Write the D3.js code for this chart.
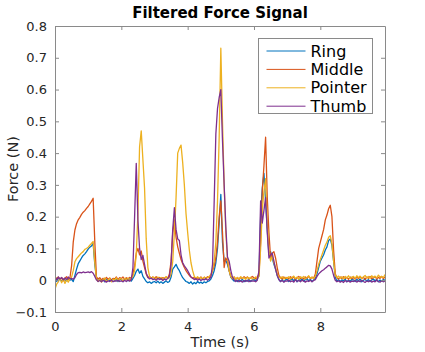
<!DOCTYPE html>
<html>
<head>
<meta charset="utf-8">
<script src="https://cdn.jsdelivr.net/npm/d3@7"></script>
<style>
  body { margin: 0; background: #fff; }
  svg { font-family: "DejaVu Sans", sans-serif; }
</style>
</head>
<body>
<div id="chart"></div>
<script>
// samples every 0.05 s
const sampleStep = 0.05;
const seriesNames = ["Ring", "Middle", "Pointer", "Thumb"];
const seriesColors = ["#0072bd", "#d95319", "#edb120", "#7e2f8e"];
const yTicks = [-0.1, 0, 0.1, 0.2, 0.3, 0.4, 0.5, 0.6, 0.7, 0.8];
const xTicks = [0, 2, 4, 6, 8];

const ring = [
  0.005, -0.004, 0.006, 0.002, -0.003, 0.004, 0.001, -0.002, 0.005, 0.000, 0.003, -0.004, 0.015, 0.035, 0.052, 0.061, 0.070, 0.078, 0.083, 0.090,
  0.098, 0.104, 0.108, 0.116, 0.050, 0.006, -0.003, 0.004, -0.002, 0.003, -0.005, 0.002, 0.004, -0.003, 0.001, 0.005, -0.002, 0.003, -0.004, 0.002,
  0.003, -0.004, 0.002, 0.005, -0.002, 0.004, -0.003, 0.006, 0.015, 0.028, 0.035, 0.022, 0.030, 0.012, 0.004, -0.004, -0.008, -0.005, -0.010, -0.006,
  -0.004, -0.008, -0.003, -0.009, -0.005, -0.010, -0.006, -0.002, -0.007, -0.004, 0.010, 0.035, 0.042, 0.050, 0.038, 0.030, 0.018, 0.008, 0.002, -0.004,
  -0.006, -0.010, -0.005, -0.012, -0.007, -0.011, -0.004, -0.009, -0.006, -0.010, -0.005, -0.008, -0.004, -0.002, 0.004, 0.015, 0.030, 0.055, 0.100, 0.180,
  0.270, 0.120, 0.060, 0.062, 0.050, 0.030, 0.010, 0.003, -0.003, 0.002, -0.004, 0.001, -0.002, 0.003, -0.005, 0.000, -0.003, 0.002, -0.004, 0.001,
  0.002, -0.003, 0.004, 0.015, 0.200, 0.290, 0.336, 0.250, 0.160, 0.080, 0.090, 0.070, 0.050, 0.035, 0.015, 0.003, -0.004, 0.002, -0.005, 0.001,
  0.003, -0.004, 0.001, 0.005, -0.002, 0.004, -0.005, 0.002, -0.001, 0.004, -0.003, 0.002, 0.005, -0.002, 0.003, -0.004, 0.001, 0.006, 0.020, 0.040,
  0.060, 0.070, 0.080, 0.095, 0.105, 0.125, 0.130, 0.110, 0.060, 0.010, -0.003, 0.002, -0.004, 0.001, -0.002, 0.003, -0.005, 0.000, -0.003, 0.002,
  0.001, -0.004, 0.003, -0.002, 0.004, -0.005, 0.000, 0.003, -0.003, 0.002, -0.004, 0.001, 0.004, -0.002, 0.003, -0.005, 0.001, -0.003, 0.002, 0.000
];
const middle = [
  0.012, 0.004, 0.010, 0.002, 0.008, -0.002, 0.006, 0.011, 0.003, 0.007, 0.045, 0.120, 0.158, 0.178, 0.190, 0.198, 0.207, 0.214, 0.219, 0.226,
  0.232, 0.240, 0.248, 0.258, 0.120, 0.010, 0.004, 0.008, 0.001, 0.006, 0.002, 0.009, 0.003, 0.007, 0.000, 0.006, 0.004, 0.010, 0.002, 0.008,
  0.005, 0.010, 0.003, 0.008, 0.004, 0.009, 0.006, 0.020, 0.045, 0.085, 0.100, 0.080, 0.092, 0.060, 0.040, 0.020, 0.008, 0.012, 0.005, 0.010,
  0.006, 0.011, 0.004, 0.009, 0.003, 0.008, 0.005, 0.010, 0.006, 0.020, 0.060, 0.150, 0.190, 0.135, 0.105, 0.085, 0.065, 0.052, 0.040, 0.030,
  0.022, 0.015, 0.010, 0.006, 0.009, 0.003, 0.008, 0.005, 0.010, 0.004, 0.009, 0.006, 0.011, 0.008, 0.015, 0.030, 0.045, 0.070, 0.120, 0.200,
  0.250, 0.150, 0.040, 0.070, 0.060, 0.030, 0.012, 0.006, 0.010, 0.004, 0.008, 0.003, 0.009, 0.005, 0.011, 0.006, 0.010, 0.004, 0.008, 0.012,
  0.008, 0.004, 0.010, 0.020, 0.120, 0.280, 0.360, 0.450, 0.260, 0.150, 0.070, 0.085, 0.090, 0.070, 0.040, 0.015, 0.008, 0.004, 0.010, 0.005,
  0.009, 0.004, 0.011, 0.006, 0.010, 0.003, 0.008, 0.012, 0.005, 0.009, 0.004, 0.010, 0.007, 0.012, 0.005, 0.009, 0.006, 0.020, 0.060, 0.100,
  0.120, 0.140, 0.160, 0.190, 0.205, 0.225, 0.236, 0.200, 0.094, 0.020, 0.008, 0.004, 0.010, 0.005, 0.011, 0.006, 0.009, 0.003, 0.010, 0.005,
  0.008, 0.004, 0.010, 0.005, 0.011, 0.006, 0.009, 0.003, 0.010, 0.006, 0.012, 0.005, 0.008, 0.011, 0.004, 0.009, 0.006, 0.012, 0.005, 0.010
];
const pointer = [
  -0.028, -0.012, -0.005, 0.006, -0.008, 0.004, -0.010, 0.002, -0.006, 0.005, 0.010, 0.030, 0.058, 0.068, 0.074, 0.080, 0.086, 0.090, 0.097, 0.100,
  0.104, 0.110, 0.116, 0.122, 0.055, 0.004, -0.004, 0.003, -0.006, 0.002, 0.007, -0.003, 0.001, 0.006, -0.005, 0.004, 0.000, 0.008, -0.002, 0.005,
  0.004, -0.003, 0.006, 0.001, 0.007, -0.002, 0.005, 0.012, 0.030, 0.080, 0.210, 0.420, 0.470, 0.380, 0.290, 0.130, 0.040, 0.012, 0.006, 0.010,
  0.008, 0.003, 0.010, 0.004, 0.009, 0.002, 0.007, 0.011, 0.005, 0.008, 0.020, 0.060, 0.150, 0.260, 0.400, 0.415, 0.425, 0.370, 0.300, 0.210,
  0.150, 0.095, 0.055, 0.030, 0.012, 0.006, 0.011, 0.004, 0.009, 0.003, 0.010, 0.005, 0.008, 0.012, 0.018, 0.030, 0.060, 0.120, 0.250, 0.450,
  0.730, 0.500, 0.300, 0.150, 0.070, 0.030, 0.012, 0.005, 0.010, 0.003, 0.009, 0.004, 0.011, 0.006, 0.008, 0.003, 0.010, 0.005, 0.009, 0.004,
  0.005, 0.010, 0.006, 0.012, 0.100, 0.220, 0.280, 0.320, 0.180, 0.090, 0.060, 0.075, 0.055, 0.040, 0.020, 0.010, 0.006, 0.011, 0.004, 0.009,
  0.006, 0.011, 0.004, 0.009, 0.013, 0.005, 0.010, 0.003, 0.011, 0.007, 0.012, 0.004, 0.009, 0.014, 0.006, 0.010, 0.005, 0.012, 0.030, 0.050,
  0.065, 0.080, 0.095, 0.110, 0.120, 0.135, 0.140, 0.115, 0.060, 0.015, 0.008, 0.013, 0.006, 0.011, 0.004, 0.012, 0.007, 0.014, 0.005, 0.010,
  0.012, 0.006, 0.014, 0.008, 0.013, 0.005, 0.011, 0.015, 0.007, 0.012, 0.006, 0.014, 0.009, 0.013, 0.007, 0.016, 0.010, 0.012, 0.008, 0.018
];
const thumb = [
  0.008, 0.002, 0.010, 0.004, 0.009, 0.001, 0.007, 0.003, 0.010, 0.005, 0.006, 0.003, 0.008, 0.018, 0.024, 0.025, 0.023, 0.026, 0.024, 0.025,
  0.026, 0.024, 0.027, 0.022, 0.012, 0.001, -0.004, -0.001, -0.005, 0.000, -0.003, -0.006, -0.002, -0.004, 0.001, -0.005, -0.002, -0.003, 0.000, -0.004,
  -0.002, -0.005, 0.000, -0.004, 0.001, -0.003, 0.002, 0.040, 0.200, 0.368, 0.190, 0.100, 0.065, 0.078, 0.050, 0.022, 0.010, 0.004, 0.007, 0.002,
  0.004, 0.000, 0.006, 0.002, 0.005, -0.001, 0.004, 0.001, 0.006, 0.012, 0.050, 0.160, 0.228, 0.160, 0.130, 0.125, 0.080, 0.055, 0.045, 0.038,
  0.030, 0.020, 0.010, 0.006, 0.002, 0.005, 0.000, 0.004, -0.001, 0.003, 0.001, 0.005, 0.000, 0.004, 0.010, 0.050, 0.250, 0.460, 0.540, 0.575,
  0.600, 0.440, 0.300, 0.170, 0.073, 0.060, 0.031, 0.010, 0.002, -0.004, 0.000, -0.005, -0.002, -0.006, -0.001, -0.004, 0.000, -0.005, -0.002, -0.003,
  -0.002, -0.005, 0.000, 0.030, 0.250, 0.180, 0.220, 0.260, 0.150, 0.070, 0.080, 0.085, 0.060, 0.035, 0.015, 0.002, -0.004, -0.001, -0.006, -0.002,
  -0.003, 0.000, -0.005, -0.002, -0.006, 0.001, -0.004, -0.001, -0.005, 0.000, -0.003, -0.006, -0.002, -0.004, 0.000, -0.005, -0.001, 0.002, 0.012, 0.020,
  0.025, 0.030, 0.033, 0.038, 0.042, 0.047, 0.045, 0.035, 0.015, 0.000, -0.005, -0.002, -0.006, -0.003, -0.007, -0.001, -0.005, -0.002, -0.006, -0.003,
  -0.004, -0.001, -0.006, -0.002, -0.005, 0.000, -0.004, -0.007, -0.002, -0.005, -0.001, -0.006, -0.003, -0.005, 0.000, -0.004, -0.006, -0.002, -0.005, -0.003
];
const allSeries = [ring, middle, pointer, thumb];

const width = 425, height = 352;
const margin = { top: 26, right: 40, bottom: 40, left: 55 };
const innerW = width - margin.left - margin.right;
const innerH = height - margin.top - margin.bottom;
const axisGray = "#8a8a8a";
const textColor = "#262626";

const svg = d3.select("#chart").append("svg")
    .attr("width", width)
    .attr("height", height);

const x = d3.scaleLinear().domain([0, 9.95]).range([0, innerW]);
const y = d3.scaleLinear().domain([-0.1, 0.8]).range([innerH, 0]);

const g = svg.append("g").attr("transform", `translate(${margin.left},${margin.top})`);

g.append("clipPath").attr("id", "plot-clip")
  .append("rect").attr("width", innerW).attr("height", innerH);

// lines, drawn in legend order so Thumb ends up on top
const line = d3.line()
    .x((d, i) => x(i * sampleStep))
    .y(d => y(d));

g.append("g").attr("clip-path", "url(#plot-clip)")
  .selectAll("path")
  .data(allSeries)
  .join("path")
    .attr("fill", "none")
    .attr("stroke", (d, i) => seriesColors[i])
    .attr("stroke-width", 1.3)
    .attr("stroke-linejoin", "round")
    .attr("d", line);

// axes, MATLAB style box with inward ticks
const tickLen = 4;
const fmtY = d => d === 0 ? "0" : d3.format(".1f")(d);

const xBottom = g.append("g").attr("transform", `translate(0,${innerH})`)
    .call(d3.axisBottom(x).tickValues(xTicks).tickSizeInner(-tickLen).tickSizeOuter(0).tickPadding(10).tickFormat(d3.format("d")));
const xTop = g.append("g")
    .call(d3.axisTop(x).tickValues(xTicks).tickSizeInner(-tickLen).tickSizeOuter(0).tickFormat(""));
const yLeft = g.append("g")
    .call(d3.axisLeft(y).tickValues(yTicks).tickSizeInner(-tickLen).tickSizeOuter(0).tickPadding(8).tickFormat(fmtY));
const yRight = g.append("g").attr("transform", `translate(${innerW},0)`)
    .call(d3.axisRight(y).tickValues(yTicks).tickSizeInner(-tickLen).tickSizeOuter(0).tickFormat(""));

[xBottom, xTop, yLeft, yRight].forEach(a => {
  a.select(".domain").attr("stroke", axisGray).attr("stroke-width", 1);
  a.selectAll(".tick line").attr("stroke", axisGray);
  a.selectAll(".tick text").attr("fill", textColor)
    .style("font-family", "DejaVu Sans").style("font-size", "13px");
});

// titles
svg.append("text")
    .attr("x", margin.left + innerW / 2).attr("y", 18)
    .attr("text-anchor", "middle")
    .style("font-size", "15px").style("font-weight", "bold")
    .attr("fill", "#000")
    .text("Filtered Force Signal");

svg.append("text")
    .attr("x", margin.left + innerW / 2).attr("y", 347)
    .attr("text-anchor", "middle")
    .style("font-size", "14.5px")
    .attr("fill", textColor)
    .text("Time (s)");

svg.append("text")
    .attr("transform", `translate(18,${margin.top + innerH / 2}) rotate(-90)`)
    .attr("text-anchor", "middle")
    .style("font-size", "14.5px")
    .attr("fill", textColor)
    .text("Force (N)");

// legend
const legend = svg.append("g").attr("transform", "translate(258.5,38.5)");
legend.append("rect")
    .attr("width", 114).attr("height", 75)
    .attr("fill", "#fff").attr("stroke", axisGray).attr("stroke-width", 1);

const item = legend.selectAll("g.item")
  .data(seriesNames)
  .join("g")
    .attr("class", "item")
    .attr("transform", (d, i) => `translate(0,${12.5 + i * 18.4})`);

item.append("line")
    .attr("x1", 8).attr("x2", 47)
    .attr("stroke", (d, i) => seriesColors[i])
    .attr("stroke-width", 1);

item.append("text")
    .attr("x", 52).attr("dy", "0.35em")
    .style("font-size", "16px")
    .attr("fill", "#000")
    .text(d => d);
</script>
</body>
</html>
